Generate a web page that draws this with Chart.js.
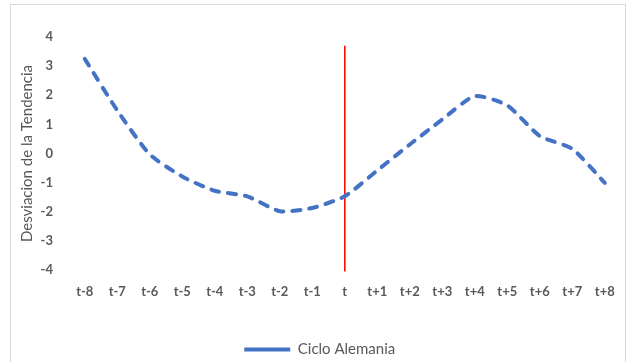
<!DOCTYPE html>
<html><head><meta charset="utf-8">
<script src="https://cdn.jsdelivr.net/npm/chart.js@4/dist/chart.umd.min.js"></script>
<style>
html,body{margin:0;padding:0;background:#fff;}
#wrap{position:relative;width:629px;height:362px;overflow:hidden;}
#frame{position:absolute;left:10px;top:4px;width:616px;height:380px;border:1px solid #d9d9d9;border-bottom:none;pointer-events:none;box-sizing:border-box;}
</style></head>
<body><div id="wrap"><canvas id="c" width="629" height="362"></canvas><div id="frame"></div></div>
<script>
const categories = ['t-8','t-7','t-6','t-5','t-4','t-3','t-2','t-1','t','t+1','t+2','t+3','t+4','t+5','t+6','t+7','t+8'];
const cicloAlemania = [3.25, 1.48, -0.03, -0.79, -1.28, -1.47, -1.98, -1.87, -1.47, -0.58, 0.31, 1.17, 1.97, 1.65, 0.6, 0.16, -1.01];
const markerCategory = 't';
const markerValues = [3.7, -4.05];
const yMin = -4, yMax = 4, yStep = 1;
const seriesName = 'Ciclo Alemania';
const yTitle = 'Desviacion de la Tendencia';

const FONT = 'Lato, "Liberation Sans", sans-serif';
const GREY = '#595959';

new Chart(document.getElementById('c'), {
  type: 'line',
  data: {
    labels: categories,
    datasets: [
      {
        label: seriesName,
        data: cicloAlemania,
        borderColor: '#4472C4',
        backgroundColor: '#4472C4',
        borderWidth: 4,
        borderDash: [8, 9],
        borderCapStyle: 'round',
        borderJoinStyle: 'round',
        tension: 0.2,
        pointRadius: 0,
        fill: false
      },
      {
        label: 'marker',
        data: markerValues.map(v => ({ x: markerCategory, y: v })),
        borderColor: '#FF0000',
        borderWidth: 1.5,
        pointRadius: 0,
        tension: 0,
        clip: false,
        fill: false
      }
    ]
  },
  options: {
    responsive: false,
    maintainAspectRatio: false,
    animation: false,
    layout: { padding: { left: 18, right: 7.5, top: 37, bottom: -5 } },
    plugins: {
      tooltip: { enabled: false },
      legend: {
        position: 'bottom',
        labels: {
          filter: (item) => item.datasetIndex === 0,
          usePointStyle: true,
          pointStyle: 'line',
          pointStyleWidth: 46,
          color: GREY,
          font: { family: FONT, size: 15 },
          padding: 6
        }
      }
    },
    scales: {
      x: {
        offset: true,
        grid: { display: false, drawTicks: false },
        border: { display: false },
        ticks: {
          color: GREY,
          font: { family: FONT, size: 13, weight: 'bold' },
          padding: 14,
          maxRotation: 0,
          autoSkip: false
        },
        afterFit: (scale) => { scale.height = 66; }
      },
      y: {
        min: yMin,
        max: yMax,
        grid: { display: false, drawTicks: false },
        border: { display: false },
        ticks: {
          stepSize: yStep,
          color: GREY,
          font: { family: FONT, size: 13, weight: 'bold' },
          padding: 15.5
        },
        title: {
          display: true,
          text: yTitle,
          color: GREY,
          font: { family: FONT, size: 15 },
          padding: { top: 0, bottom: 0 }
        },
        afterFit: (scale) => { scale.width = 50.5; }
      }
    }
  }
});
</script>
</body></html>
